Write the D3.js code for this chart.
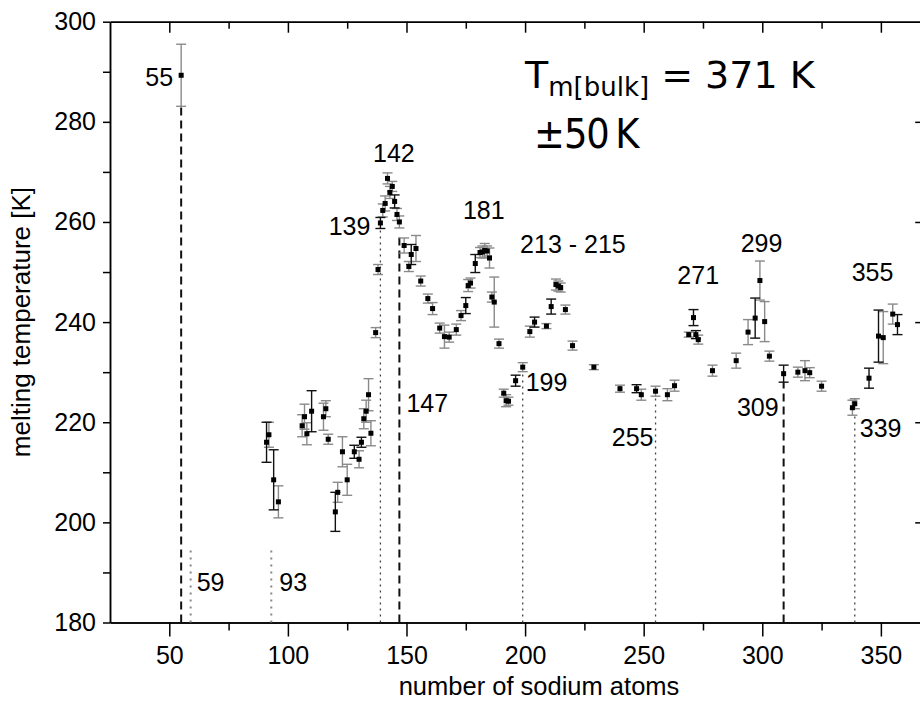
<!DOCTYPE html>
<html>
<head>
<meta charset="utf-8">
<script src="https://cdn.jsdelivr.net/npm/d3@7"></script>
<style>
  html, body { margin: 0; padding: 0; background: #fff; }
  svg { display: block; }
  text { font-family: "Liberation Sans", Arial, Helvetica, sans-serif; fill: #000; }
  text.note { font-family: "DejaVu Sans", sans-serif; }
  text.note-cond { font-family: "DejaVu Sans Condensed", "DejaVu Sans", sans-serif; }
</style>
</head>
<body>
<svg id="chart" width="920" height="713"></svg>
<script>
// Melting temperatures of sodium cluster cations Na_n+ versus cluster size.
// Set A: sizes, melting temperatures [K] and uncertainties [K]
const sizesA = [55, 92, 96, 106, 107, 108, 115, 116, 117, 121, 123, 125, 130, 132, 133, 134, 135,
  137, 138, 140, 141, 142, 143, 144, 146, 147, 149, 151, 154, 156, 159, 161, 164, 166, 168,
  171, 173, 176, 177, 181, 182, 183, 184, 185, 186, 187, 189, 191, 192, 193, 199, 202, 209,
  213, 214, 215, 217, 220, 229, 240, 249, 255, 260, 263, 269, 273, 279, 289, 294, 299, 301,
  303, 315, 318, 320, 325, 338, 339, 351, 355];
const tempsA = [289.3, 217.5, 204.1, 219.3, 221.1, 217.7, 221.1, 222.7, 216.6, 206.0, 214.1, 208.5,
  212.6, 220.7, 222.2, 225.5, 217.8, 237.9, 250.5, 262.3, 263.7, 268.7, 265.9, 267.1, 261.5,
  260.0, 255.3, 251.1, 254.7, 248.2, 244.7, 242.7, 238.8, 237.1, 237.0, 238.5, 241.3, 247.3,
  247.8, 253.9, 254.0, 254.3, 254.2, 252.8, 245.0, 244.0, 235.7, 225.8, 224.3, 224.2, 231.0,
  238.1, 239.2, 247.5, 247.2, 246.9, 242.5, 235.3, 231.0, 226.7, 225.5, 226.2, 225.5, 227.3,
  237.5, 236.5, 230.3, 232.3, 238.0, 248.3, 240.1, 233.2, 230.0, 230.3, 229.9, 227.2, 222.9,
  223.7, 236.9, 241.6];
const errsA = [6.2, 2.5, 3.2, 2.2, 2.5, 2.2, 2.7, 1.6, 1.0, 2.0, 3.0, 3.1, 1.7, 2.0, 2.2, 3.2, 2.5,
  1.0, 1.0, 1.3, 1.5, 1.1, 1.2, 1.0, 1.2, 1.2, 1.5, 1.0, 2.6, 1.0, 0.9, 1.2, 1.0, 2.3, 1.0,
  1.1, 1.0, 1.2, 1.0, 1.0, 1.2, 1.4, 1.0, 2.0, 1.0, 5.0, 0.9, 0.8, 1.2, 0.8, 0.9, 1.1, 0.5,
  1.1, 1.0, 0.9, 0.9, 0.9, 0.5, 0.7, 1.1, 1.0, 1.2, 1.1, 0.5, 0.9, 1.1, 1.5, 2.5, 3.9, 4.0,
  1.0, 1.0, 2.0, 1.0, 1.0, 1.5, 1.0, 5.2, 2.0];

// Set B: sizes, melting temperatures [K] and uncertainties [K]
const sizesB = [91, 94, 110, 120, 128, 131, 139, 145, 152, 175, 179, 196, 204, 211, 247, 271, 272,
  297, 309, 345, 349, 357];
const tempsB = [216.0, 208.5, 222.2, 202.1, 214.1, 216.0, 259.8, 264.1, 253.5, 243.3, 251.7, 228.3,
  240.0, 243.1, 226.7, 240.9, 237.5, 240.8, 229.7, 228.8, 237.2, 239.5];
const errsB = [4.0, 6.0, 4.1, 3.9, 1.3, 1.0, 1.1, 1.3, 2.0, 1.6, 1.8, 1.1, 1.0, 1.5, 0.8, 1.6, 0.8,
  4.0, 1.7, 2.0, 5.2, 2.0];

// Geometric (icosahedral) shell closings and the temperature each marker line reaches
const geometricShells = [55, 147, 309];
const geometricTops = [283.1, 257.3, 228.0];
// Electronic shell closings (n = 58, 92, 138, ... plus one for the cation charge)
const electronicShells = [59, 93, 139, 199, 255, 339];
const electronicTops = [195, 195, 258.7, 229.7, 225.0, 221.7];

// Size labels written next to features of the curve: text, size, temperature
const featureLabels = ["142", "181", "213 - 215", "271", "299", "355"];
const featureSizes = [135.9, 173.8, 197.9, 264.2, 290.9, 337.7];
const featureTemps = [271.9, 260.5, 253.8, 247.7, 254.0, 248.3];

// Axis ticks
const xMajorTicks = [50, 100, 150, 200, 250, 300, 350];
const xMinorTicks = [75, 125, 175, 225, 275, 325];
const yMajorTicks = [180, 200, 220, 240, 260, 280, 300];
const yMinorTicks = [190, 210, 230, 250, 270, 290];

const svg = d3.select("#chart");
const margin = { left: 110, top: 21.7, right: 921.2, bottom: 622.5 };

const x = d3.scaleLinear().domain([25, 367]).range([margin.left, margin.right]);
const y = d3.scaleLinear().domain([180, 300]).range([margin.bottom, margin.top]);

const tickFont = 25;

// ----- axes -----
function styleAxis(g, width) {
  g.select(".domain").attr("stroke", "#000").attr("stroke-width", width);
  g.selectAll(".tick line").attr("stroke", "#000").attr("stroke-width", width);
  g.selectAll(".tick text").attr("font-size", tickFont).attr("fill", "#000");
}

// bottom
svg.append("g").attr("transform", `translate(0,${margin.bottom})`)
  .call(d3.axisBottom(x).tickValues(xMinorTicks).tickSizeInner(8).tickSizeOuter(0).tickFormat(""))
  .call(g => styleAxis(g, 1.5));
svg.append("g").attr("transform", `translate(0,${margin.bottom})`)
  .call(d3.axisBottom(x).tickValues(xMajorTicks).tickSizeInner(14).tickSizeOuter(0).tickPadding(10))
  .call(g => styleAxis(g, 1.5));

// top (ticks point into the plot)
svg.append("g").attr("transform", `translate(0,${margin.top})`)
  .call(d3.axisTop(x).tickValues(xMinorTicks).tickSizeInner(-7).tickSizeOuter(0).tickFormat(""))
  .call(g => styleAxis(g, 1.5));
svg.append("g").attr("transform", `translate(0,${margin.top})`)
  .call(d3.axisTop(x).tickValues(xMajorTicks).tickSizeInner(-11).tickSizeOuter(0).tickFormat(""))
  .call(g => styleAxis(g, 1.5));

// left
svg.append("g").attr("transform", `translate(${margin.left},0)`)
  .call(d3.axisLeft(y).tickValues(yMinorTicks).tickSizeInner(7).tickSizeOuter(0).tickFormat(""))
  .call(g => styleAxis(g, 1.5));
svg.append("g").attr("transform", `translate(${margin.left},0)`)
  .call(d3.axisLeft(y).tickValues(yMajorTicks).tickSizeInner(7).tickSizeOuter(0).tickPadding(7))
  .call(g => styleAxis(g, 1.5));

// right (ticks point into the plot)
svg.append("g").attr("transform", `translate(${margin.right},0)`)
  .call(d3.axisRight(y).tickValues(yMajorTicks.slice(1, -1)).tickSizeInner(-6).tickSizeOuter(0).tickFormat(""))
  .call(g => styleAxis(g, 1.5));

// axis titles
svg.append("text")
  .attr("x", 539).attr("y", 695)
  .attr("text-anchor", "middle").attr("font-size", 25.5)
  .text("number of sodium atoms");
svg.append("text")
  .attr("transform", `translate(30,${(margin.top + margin.bottom) / 2}) rotate(-90)`)
  .attr("text-anchor", "middle").attr("font-size", 26)
  .text("melting temperature [K]");

// ----- shell-closing marker lines -----
const lines = svg.append("g");
lines.selectAll("line.geo")
  .data(geometricShells.map((n, i) => ({ n, top: geometricTops[i] })))
  .join("line").attr("class", "geo")
  .attr("x1", d => x(d.n)).attr("x2", d => x(d.n))
  .attr("y1", y(180)).attr("y2", d => y(d.top))
  .attr("stroke", "#111").attr("stroke-width", 2).attr("stroke-dasharray", "8,5");

lines.selectAll("line.elec")
  .data(electronicShells.map((n, i) => ({ n, top: electronicTops[i] })))
  .join("line").attr("class", "elec")
  .attr("x1", d => x(d.n)).attr("x2", d => x(d.n))
  .attr("y1", y(180)).attr("y2", d => y(d.top))
  .attr("stroke", d => d.top <= 200 ? "#888" : "#444")
  .attr("stroke-width", d => d.top <= 200 ? 2 : 1.3)
  .attr("stroke-dasharray", d => d.top <= 200 ? "2,5" : "2,4");

// ----- data points with error bars -----
function drawSet(sizes, temps, errs, barColor) {
  const data = sizes.map((n, i) => ({ n, t: temps[i], e: errs[i] }));
  const g = svg.append("g");
  const bars = g.selectAll("g").data(data).join("g");
  const cap = 5;
  bars.append("line")
    .attr("x1", d => x(d.n)).attr("x2", d => x(d.n))
    .attr("y1", d => y(d.t - d.e)).attr("y2", d => y(d.t + d.e));
  bars.append("line")
    .attr("x1", d => x(d.n) - cap).attr("x2", d => x(d.n) + cap)
    .attr("y1", d => y(d.t + d.e)).attr("y2", d => y(d.t + d.e));
  bars.append("line")
    .attr("x1", d => x(d.n) - cap).attr("x2", d => x(d.n) + cap)
    .attr("y1", d => y(d.t - d.e)).attr("y2", d => y(d.t - d.e));
  bars.selectAll("line").attr("stroke", barColor).attr("stroke-width", 1.4);
  return data;
}
const dataA = drawSet(sizesA, tempsA, errsA, "#8a8a8a");
const dataB = drawSet(sizesB, tempsB, errsB, "#111");

const markerSize = 5;
svg.append("g").selectAll("rect")
  .data(dataA.concat(dataB))
  .join("rect")
  .attr("x", d => x(d.n) - markerSize / 2).attr("y", d => y(d.t) - markerSize / 2)
  .attr("width", markerSize).attr("height", markerSize)
  .attr("fill", "#000");

// ----- annotations -----
const labelFont = 25;
const ann = svg.append("g").attr("font-size", labelFont);

// labels at the shell-closing lines
const shellLabel = (text, n, t, dx, anchor) =>
  ann.append("text").attr("x", x(n) + dx).attr("y", y(t)).attr("text-anchor", anchor).text(text);

shellLabel("55", 55, 287.2, -8, "end");
shellLabel("59", 59, 186.2, 6, "start");
shellLabel("93", 93, 186.2, 8, "start");
shellLabel("139", 139, 257.3, -10, "end");
shellLabel("147", 147, 222, 7, "start");
shellLabel("199", 199, 226.3, 3, "start");
shellLabel("255", 255, 215.3, -2, "end");
shellLabel("309", 309, 221.3, -5, "end");
shellLabel("339", 339, 217, 5, "start");

featureLabels.forEach((text, i) => {
  ann.append("text").attr("x", x(featureSizes[i])).attr("y", y(featureTemps[i])).text(text);
});

// bulk melting point note
const bulk = svg.append("text").attr("class", "note")
  .attr("x", 525).attr("y", 88)
  .attr("font-size", 38);
bulk.append("tspan").text("T");
bulk.append("tspan").attr("font-size", 26).attr("dy", 8).text("m[bulk]");
bulk.append("tspan").attr("dy", -8).text(" = 371 K");

svg.append("text").attr("class", "note-cond")
  .attr("x", 534).attr("y", 148)
  .attr("font-size", 41).attr("letter-spacing", -1)
  .text("\u00B150\u2009K");
</script>
</body>
</html>
